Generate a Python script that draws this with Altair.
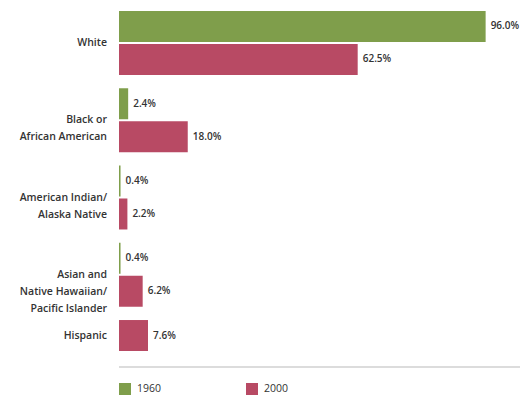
import altair as alt
import pandas as pd

groups = ["White", "Black or African American", "American Indian/Alaska Native",
          "Asian and Native Hawaiian/Pacific Islander", "Hispanic"]
group_labels = [["White"], ["Black or", "African American"], ["American Indian/", "Alaska Native"],
                ["Asian and", "Native Hawaiian/", "Pacific Islander"], ["Hispanic"]]
years = ["1960", "2000"]
v1960 = [96.0, 2.4, 0.4, 0.4, None]
v2000 = [62.5, 18.0, 2.2, 6.2, 7.6]

rows = []
for g, a, b in zip(groups, v1960, v2000):
    if a is not None:
        rows.append({"group": g, "year": "1960", "slot": "a", "value": a})
        rows.append({"group": g, "year": "2000", "slot": "b", "value": b})
    else:
        rows.append({"group": g, "year": "2000", "slot": "a", "value": b})
df = pd.DataFrame(rows)
df["label"] = df["value"].map(lambda v: f"{v:.1f}%")

lab = pd.DataFrame({"group": groups, "text": group_labels,
                    "single": [v is None for v in v1960]})

yscale = alt.Scale(domain=groups, paddingInner=0.172, paddingOuter=0)
yoff = alt.Scale(domain=["a", "b"], paddingInner=0.06, paddingOuter=0)
xscale = alt.Scale(domain=[0, 105], nice=False)

FONT = "Open Sans"
TXT = "#333333"

bars = alt.Chart(df).mark_bar().encode(
    x=alt.X("value:Q", scale=xscale, axis=None),
    y=alt.Y("group:N", scale=yscale, axis=None, sort=groups),
    yOffset=alt.YOffset("slot:N", scale=yoff),
    color=alt.Color("year:N", scale=alt.Scale(domain=years, range=["#7f9e4b", "#b84a64"]),
                    legend=alt.Legend(title=None, orient="none", legendX=0, legendY=372,
                                      direction="horizontal", symbolType="square",
                                      symbolSize=144, symbolStrokeWidth=0, labelOffset=6,
                                      columnPadding=84, labelFontSize=10.5, labelColor=TXT,
                                      labelFont=FONT)),
)

vals = alt.Chart(df).mark_text(align="left", dx=5, fontSize=10, font=FONT,
                               fontWeight=600, color=TXT).encode(
    x=alt.X("value:Q", scale=xscale),
    y=alt.Y("group:N", scale=yscale, sort=groups),
    yOffset=alt.YOffset("slot:N", scale=yoff),
    text="label:N",
)

glab2 = alt.Chart(lab).transform_filter("!datum.single").mark_text(
    align="right", dx=-12, fontSize=10.5, font=FONT, fontWeight=600,
    color=TXT, lineHeight=17).encode(
    x=alt.value(0),
    y=alt.Y("group:N", scale=yscale, sort=groups),
    text="text",
)

glab1 = alt.Chart(lab).transform_filter("datum.single").transform_calculate(slot="'a'").mark_text(
    align="right", dx=-12, fontSize=10.5, font=FONT, fontWeight=600,
    color=TXT).encode(
    x=alt.value(0),
    y=alt.Y("group:N", scale=yscale, sort=groups),
    yOffset=alt.YOffset("slot:N", scale=yoff),
    text="text",
)

divider = alt.Chart(pd.DataFrame({"k": [0]})).mark_rule(color="#dcdcdc", strokeWidth=2).encode(
    x=alt.value(0), x2=alt.value(401), y=alt.value(356))

chart = alt.layer(bars, vals, glab2, glab1, divider).properties(
    width=401, height=373,
    autosize=alt.AutoSizeParams(type="none"),
    padding={"left": 119, "top": 11, "right": 8, "bottom": 16},
).configure_view(stroke=None)

chart.save("out.html", embed_options={"renderer": "svg", "actions": False})
